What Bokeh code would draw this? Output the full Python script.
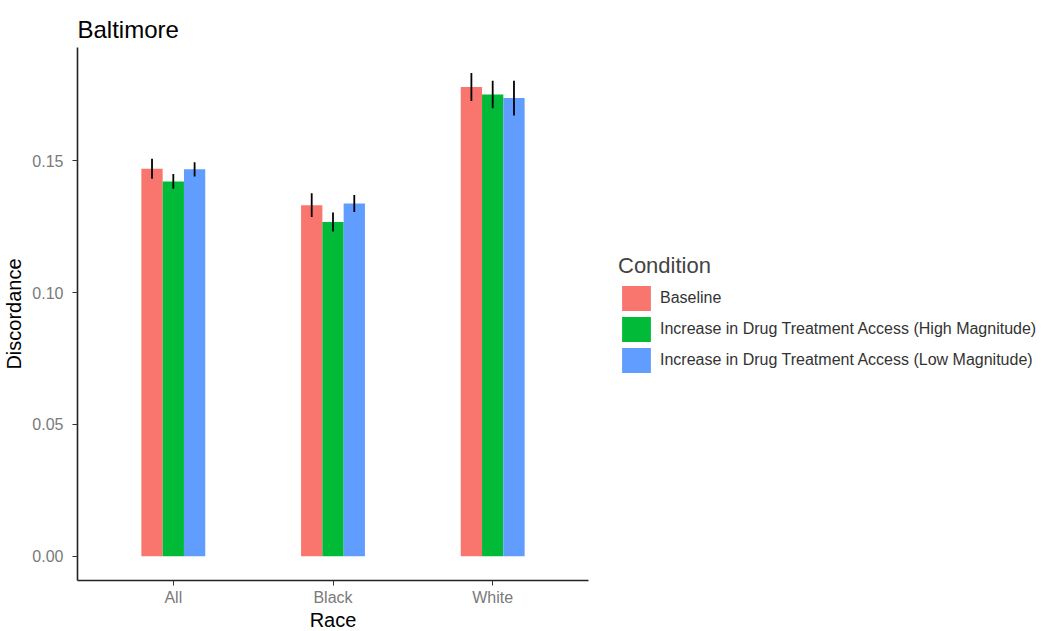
from bokeh.plotting import figure
from bokeh.models import ColumnDataSource, Range1d, FixedTicker, Legend, LegendItem, NumeralTickFormatter, Title
from bokeh.embed import file_html
from bokeh.resources import INLINE

races = ["All", "Black", "White"]
conditions = ["Baseline",
              "Increase in Drug Treatment Access (High Magnitude)",
              "Increase in Drug Treatment Access (Low Magnitude)"]
baseline = [0.147, 0.1332, 0.178]
high_mag = [0.1422, 0.1268, 0.1752]
low_mag = [0.1468, 0.1338, 0.1738]
baseline_err = [0.0038, 0.0045, 0.0053]
high_err = [0.0028, 0.0036, 0.0052]
low_err = [0.0027, 0.0032, 0.0066]
colors = ["#F8766D", "#00BA38", "#619CFF"]

FONT = "Liberation Sans"

p = figure(frame_width=511, frame_height=533, output_backend="svg", toolbar_location=None,
           x_range=Range1d(0.4, 3.6), y_range=Range1d(-0.0092, 0.193),
           min_border_left=0, min_border_top=0, min_border_bottom=0, min_border_right=0)
p.outline_line_color = None
p.xgrid.visible = False
p.ygrid.visible = False
p.background_fill_color = "white"

# spacer on top, real title just above the frame
p.title.text = " "
p.title.text_font_size = "5px"
p.title.standoff = 0
p.add_layout(Title(text="Baltimore", text_font=FONT, text_font_size="24px",
                   text_font_style="normal", text_color="black", offset=0, standoff=10), "above")

series = [baseline, high_mag, low_mag]
errs = [baseline_err, high_err, low_err]
width = 0.4 / len(conditions)
items = []
for j, (vals, er, col, name) in enumerate(zip(series, errs, colors, conditions)):
    xs = [i + 1 + (j - 1) * width for i in range(len(races))]
    src = ColumnDataSource(dict(x=xs, top=vals,
                                lo=[v - e for v, e in zip(vals, er)],
                                hi=[v + e for v, e in zip(vals, er)]))
    r = p.vbar(x="x", top="top", bottom=0, width=width, source=src,
               fill_color=col, line_color=None)
    p.segment(x0="x", y0="lo", x1="x", y1="hi", source=src, line_color="black", line_width=1.8)
    items.append(LegendItem(label=name, renderers=[r]))

p.xaxis.ticker = FixedTicker(ticks=[i + 1 for i in range(len(races))])
p.xaxis.major_label_overrides = {i + 1: r for i, r in enumerate(races)}
p.yaxis.ticker = FixedTicker(ticks=[0, 0.05, 0.10, 0.15])
p.yaxis.formatter = NumeralTickFormatter(format="0.00")
p.xaxis.axis_label = "Race"
p.yaxis.axis_label = "Discordance"
for ax in (p.xaxis[0], p.yaxis[0]):
    ax.axis_line_color = "#222222"
    ax.axis_line_width = 1.6
    ax.major_tick_line_color = "#333333"
    ax.major_tick_in = 0
    ax.major_tick_out = 5
    ax.minor_tick_line_color = None
    ax.major_label_text_font = FONT
    ax.major_label_text_font_size = "16px"
    ax.major_label_text_color = "#7A7A7A"
    ax.axis_label_text_font = FONT
    ax.axis_label_text_font_size = "20px"
    ax.axis_label_text_font_style = "normal"
    ax.axis_label_text_color = "black"
p.xaxis.major_label_standoff = 3
p.xaxis.axis_label_standoff = 0
p.yaxis.major_label_standoff = 9
p.yaxis.axis_label_standoff = 4

legend = Legend(items=items, title="Condition", location="center_left")
legend.title_text_font = FONT
legend.title_text_font_size = "22px"
legend.title_text_font_style = "normal"
legend.title_standoff = 4
legend.label_text_font = FONT
legend.label_text_font_size = "16px"
legend.label_text_color = "#333333"
legend.glyph_width = 36
legend.glyph_height = 31
legend.label_height = 31
legend.spacing = 0
legend.label_standoff = 6
legend.padding = 10
legend.margin = 30
legend.border_line_color = None
legend.background_fill_alpha = 0
p.add_layout(legend, "right")

open("out.html", "w").write(file_html(p, INLINE))
